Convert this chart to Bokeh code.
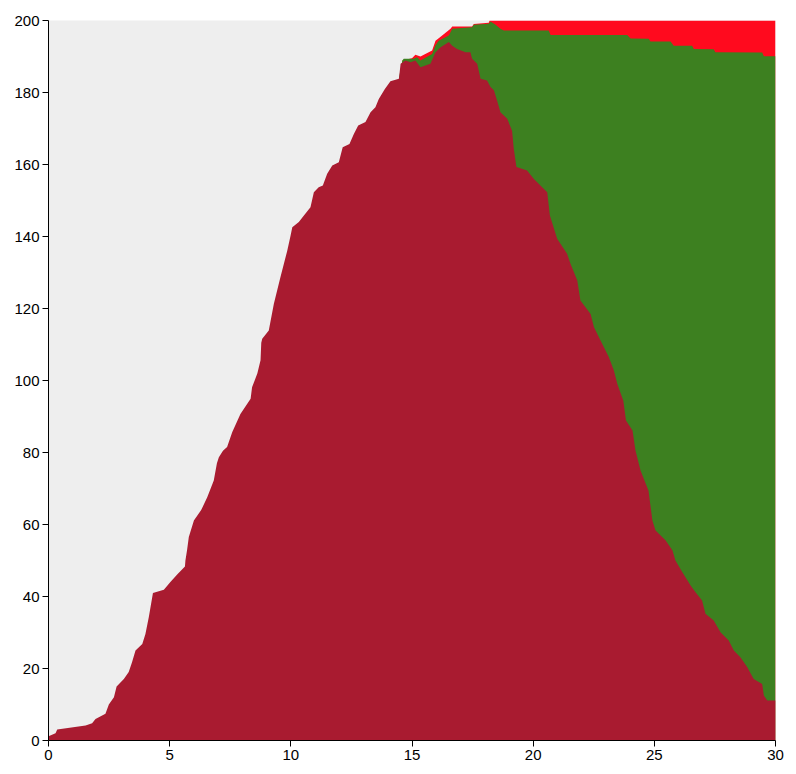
from bokeh.plotting import figure
from bokeh.models import Range1d, SingleIntervalTicker
from bokeh.embed import file_html
from bokeh.resources import INLINE

# Infected count (bottom layer)
t_infected = [0, 0.29, 0.36, 1.53, 1.8, 1.94, 2.35, 2.49, 2.7, 2.81, 3.11, 3.31, 3.45, 3.59,
              3.87, 4.0, 4.14, 4.31, 4.76, 5.03, 5.31, 5.63, 5.65, 5.72, 5.79, 6.0, 6.3, 6.55,
              6.82, 6.95, 7.03, 7.2, 7.37, 7.58, 7.92, 8.34, 8.4, 8.62, 8.75, 8.78, 8.82, 9.09,
              9.3, 9.57, 9.85, 9.99, 10.06, 10.33, 10.54, 10.81, 10.95, 11.15, 11.32, 11.5,
              11.71, 11.98, 12.14, 12.42, 12.6, 12.78, 13.08, 13.29, 13.49, 13.63, 13.88,
              14.11, 14.46, 14.53, 14.73, 14.94, 15.14, 15.35, 15.76, 15.97, 16.18, 16.52,
              16.66, 16.86, 17.21, 17.41, 17.48, 17.69, 17.83, 18.1, 18.24, 18.38, 18.51, 18.65,
              18.93, 19.13, 19.2, 19.31, 19.75, 20.03, 20.58, 20.69, 20.99, 21.4, 21.54, 21.82,
              21.95, 22.37, 22.51, 22.78, 23.12, 23.33, 23.47, 23.72, 23.83, 24.1, 24.22, 24.43,
              24.76, 24.92, 25.05, 25.46, 25.75, 25.87, 26.15, 26.49, 26.7, 26.97, 27.11, 27.45,
              27.73, 28.07, 28.28, 28.55, 28.83, 29.1, 29.45, 29.52, 29.66, 30]
infected = [1.2, 2.0, 3.05, 4.2, 4.8, 6.0, 7.4, 10, 12, 15, 17.1, 19, 21.8, 25,
            26.8, 29.6, 34.3, 41, 41.9, 44, 46.1, 48.3, 50, 53, 56.5, 61.1, 64, 67.6,
            72.2, 77, 78.7, 80.5, 81.5, 85.6, 90.7, 94.9, 98.1, 102, 105.6, 110.5, 111.6, 113.9,
            121.3, 128.7, 136, 140.3, 142.6, 144.0, 145.8, 148.1, 152.3, 153.7, 154.2, 157.4,
            159.7, 160.6, 164.8, 165.7, 168.5, 170.8, 171.8, 174.5, 175.9, 178.2, 181.0,
            183.1, 183.8, 188.0, 188.9, 188.4, 188.9, 187.0, 188.0, 191.2, 192.6, 194.0,
            193.0, 192.1, 191.2, 191.2, 189.4, 188.0, 183.8, 183.3, 181.5, 180.6, 177.8, 174.5,
            172.7, 169.4, 164.4, 159.3, 158.3, 156.0, 152.3, 145.8, 139.4, 135.2, 132.4, 127.8,
            122.2, 118.5, 114.8, 111.1, 106.5, 102.8, 99.1, 94.4, 88.9, 86.1, 80.6, 75.0,
            69.4, 61.1, 58.3, 55.6, 52.8, 50.0, 46.8, 43.1, 41.2, 38.9, 35.2, 33.3,
            30.1, 27.8, 25.0, 23.1, 20.4, 17.1, 15.7, 12.5, 11.1, 11.1]

# Infected + recovered (top of the green layer)
t_recovered = [14.46, 14.6, 14.66, 15.07, 15.21, 15.35, 15.83, 15.97, 16.1, 16.52, 16.66, 17.48,
               17.55, 18.17, 18.24, 18.45, 18.65, 18.79, 20.64, 20.72, 23.88, 24.02, 24.77,
               24.84, 25.67, 25.8, 26.56, 26.63, 27.45, 27.52, 29.45, 29.52, 30]
infected_plus_recovered = [183.8, 188.9, 189.4, 189.4, 189.8, 188.9, 190.7, 193.1, 194.4, 195.8,
                           197.7, 198.1, 198.8, 199.1, 199.7, 198.8, 197.7, 197.2, 197.2, 196.0,
                           196.0, 195.0, 194.9, 194.2, 194.2, 193.0, 193.0, 192.1, 192.0, 191.2,
                           191.1, 190.1, 190.1]

# Infected + recovered + dead (top of the red layer)
t_dead = [14.6, 15.0, 15.14, 15.35, 15.83, 15.97, 16.18, 16.59, 16.66, 17.48, 17.55, 18.17,
          18.2, 30]
infected_recovered_dead = [188.9, 189.5, 190.5, 190.0, 191.7, 194.4, 195.5, 197.7, 198.3,
                           198.3, 199.0, 199.4, 200, 200]

population = 200
x_ticks_step = 5
y_ticks_step = 20

p = figure(frame_width=727, frame_height=720, output_backend="svg", toolbar_location=None,
           x_range=Range1d(0, 30), y_range=Range1d(0, population),
           min_border_left=48, min_border_top=20, min_border_right=16, min_border_bottom=10)

p.background_fill_color = "#eeeeee"   # susceptible fills the rest up to population
p.border_fill_color = "white"
p.outline_line_color = None
p.grid.visible = False

p.varea(x=t_dead, y1=0, y2=infected_recovered_dead, fill_color="#ff0a1e", fill_alpha=1)
p.varea(x=t_recovered, y1=0, y2=infected_plus_recovered, fill_color="#3d8020", fill_alpha=1)
p.varea(x=t_infected, y1=0, y2=infected, fill_color="#a91b30", fill_alpha=1)

p.xaxis.ticker = SingleIntervalTicker(interval=x_ticks_step, num_minor_ticks=0)
p.yaxis.ticker = SingleIntervalTicker(interval=y_ticks_step, num_minor_ticks=0)
for ax in (p.xaxis[0], p.yaxis[0]):
    ax.major_label_text_font = "Liberation Sans"
    ax.major_label_text_font_size = "15px"
    ax.major_label_text_color = "black"
    ax.axis_line_color = "black"
    ax.major_tick_line_color = "black"
    ax.major_tick_out = 6
    ax.major_tick_in = 0
    ax.minor_tick_line_color = None
    ax.major_label_standoff = 3

open("out.html", "w").write(file_html(p, INLINE))
